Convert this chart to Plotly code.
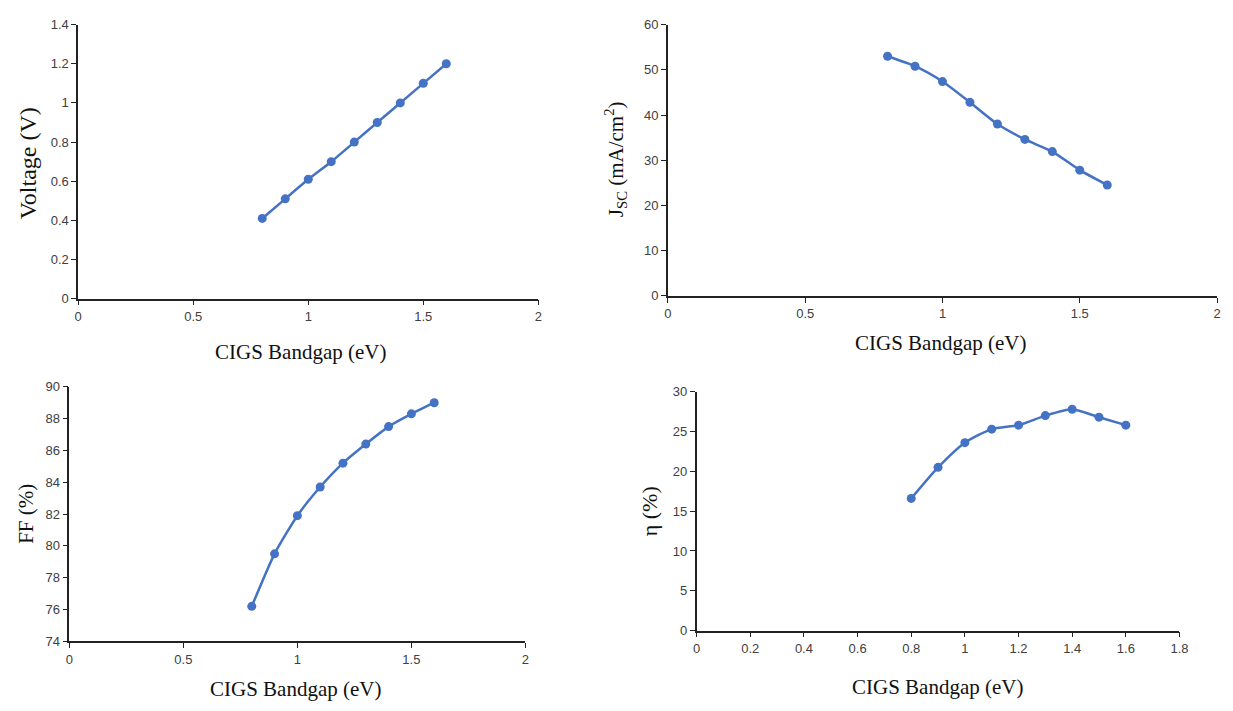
import plotly.graph_objects as go

bandgap = [0.8, 0.9, 1.0, 1.1, 1.2, 1.3, 1.4, 1.5, 1.6]
voc = [0.41, 0.51, 0.61, 0.70, 0.80, 0.90, 1.00, 1.10, 1.20]
jsc = [53.0, 50.8, 47.4, 42.8, 38.0, 34.6, 31.9, 27.8, 24.5]
ff = [76.2, 79.5, 81.9, 83.7, 85.2, 86.4, 87.5, 88.3, 89.0]
eta = [16.6, 20.5, 23.6, 25.3, 25.8, 27.0, 27.8, 26.8, 25.8]

xtitle = "CIGS Bandgap (eV)"
ytitles = ["Voltage (V)", "J<sub>SC</sub> (mA/cm<sup>2</sup>)", "FF (%)", "η (%)"]

W, H = 1233, 711
BLUE = "#4472C4"

def px(x):
    return x / W

def py(y):
    return 1 - y / H

fig = go.Figure()
series = [voc, jsc, ff, eta]
for i, ys in enumerate(series):
    sfx = "" if i == 0 else str(i + 1)
    fig.add_trace(go.Scatter(
        x=bandgap, y=ys, mode="lines+markers",
        line=dict(color=BLUE, width=2.5, shape="spline", smoothing=0.6),
        marker=dict(color=BLUE, size=9),
        xaxis="x" + sfx, yaxis="y" + sfx, showlegend=False,
    ))

# panel boxes in pixels: (left, right, top, bottom)
boxes = [
    (75, 540, 18, 298),
    (671, 1226, 18, 295),
    (66, 527, 388, 648),
    (700, 1188, 393, 637),
]
xranges = [[0, 2], [0, 2], [0, 2], [0, 1.8]]
xdticks = [0.5, 0.5, 0.5, 0.2]
yranges = [[0, 1.4], [0, 60], [74, 90], [0, 30]]
ydticks = [0.2, 10, 2, 5]

tickfont = dict(family="Liberation Sans Narrow, Liberation Sans, Arial", size=13, color="#404040")
layout = dict(
    width=W, height=H, margin=dict(l=0, r=0, t=0, b=0),
    paper_bgcolor="white", plot_bgcolor="white",
)
for i in range(4):
    l, r, t, b = boxes[i]
    sfx = "" if i == 0 else str(i + 1)
    layout["xaxis" + sfx] = dict(
        domain=[px(l), px(r)], range=xranges[i], dtick=xdticks[i], tick0=0,
        anchor="y" + sfx, showgrid=False, zeroline=False,
        showline=True, linecolor="#222", linewidth=1.5,
        ticks="outside", ticklen=5, tickcolor="#222", tickfont=tickfont,
        tickformat="~g",
    )
    layout["yaxis" + sfx] = dict(
        domain=[py(b), py(t)], range=yranges[i], dtick=ydticks[i], tick0=yranges[i][0],
        anchor="x" + sfx, showgrid=False, zeroline=False,
        showline=True, linecolor="#222", linewidth=1.5,
        ticks="outside", ticklen=5, tickcolor="#222", tickfont=tickfont,
        tickformat="~g",
    )
fig.update_layout(**layout)

xt_pos = [(300, 352), (946, 343), (295, 697), (943, 695)]
yt_pos = [(24, 160), (618, 155), (22, 518), (652, 515)]
ysizes = [24, 21, 21, 22]
for i in range(4):
    fig.add_annotation(text=xtitle, x=px(xt_pos[i][0]), y=py(xt_pos[i][1]),
                       xref="paper", yref="paper", showarrow=False,
                       xanchor="center", yanchor="middle",
                       font=dict(family="Liberation Serif, Times New Roman", size=21, color="#111"))
    fig.add_annotation(text=ytitles[i], x=px(yt_pos[i][0]), y=py(yt_pos[i][1]),
                       xref="paper", yref="paper", showarrow=False, textangle=-90,
                       xanchor="center", yanchor="middle",
                       font=dict(family="Liberation Serif, Times New Roman", size=ysizes[i], color="#111"))

fig.write_html("out.html")
